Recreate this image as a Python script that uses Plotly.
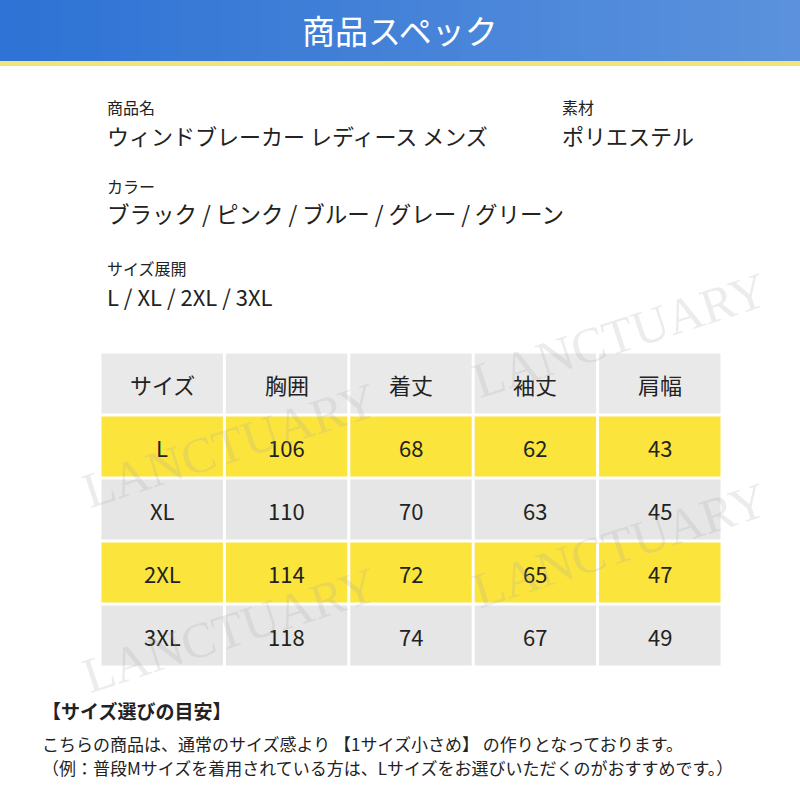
import plotly.graph_objects as go

# Data
headers = ["サイズ", "胸囲", "着丈", "袖丈", "肩幅"]
sizes = ["L", "XL", "2XL", "3XL"]
chest = [106, 110, 114, 118]
length = [68, 70, 72, 74]
sleeve = [62, 63, 65, 67]
shoulder = [43, 45, 47, 49]
highlight = [True, False, True, False]

FONT = "Noto Sans CJK JP"
fig = go.Figure()
shapes = []
ann = []

# header bar with a simple gradient
n = 40
for i in range(n):
    t = i / (n - 1)
    r = int(0x2e + (0x5c - 0x2e) * t)
    g = int(0x73 + (0x92 - 0x73) * t)
    b = int(0xd5 + (0xdd - 0xd5) * t)
    shapes.append(dict(type="rect", x0=800 * i / n, x1=800 * (i + 1) / n + 1, y0=0, y1=61,
                       fillcolor=f"rgb({r},{g},{b})", line_width=0, layer="below"))
shapes.append(dict(type="rect", x0=0, x1=800, y0=61, y1=66, fillcolor="#f3e47a", line_width=0))
ann.append(dict(x=400, y=30, text="商品スペック", font=dict(size=33, color="white", family=FONT)))

def txt(x, y, s, size, bold=False, color="#222"):
    ann.append(dict(x=x, y=y, text=f"<b>{s}</b>" if bold else s, xanchor="left",
                    font=dict(size=size, color=color, family=FONT)))

txt(105, 107, "商品名", 16)
txt(105, 135, "ウィンドブレーカー レディース メンズ", 22)
txt(560, 107, "素材", 16)
txt(560, 135, "ポリエステル", 22)
txt(105, 186, "カラー", 16)
txt(105, 213, "ブラック / ピンク / ブルー / グレー / グリーン", 22.5)
txt(105, 268, "サイズ展開", 16)
txt(105, 296, "L / XL / 2XL / 3XL", 22)

# table
x0, cw = 100, 124.4
y0, rh = 352, 63
rows = [headers] + [[s, c, l, sl, sh] for s, c, l, sl, sh in zip(sizes, chest, length, sleeve, shoulder)]
for r, row in enumerate(rows):
    color = "#e9e9e9" if r == 0 else ("#fbe43c" if highlight[r - 1] else "#e6e6e6")
    for c, v in enumerate(row):
        xa = x0 + c * cw
        ya = y0 + r * rh
        shapes.append(dict(type="rect", x0=xa + 1.5, x1=xa + cw - 1.5, y0=ya + 1.5, y1=ya + rh - 1.5,
                           fillcolor=color, line_width=0, layer="below"))
        ann.append(dict(x=xa + cw / 2, y=ya + rh / 2, text=str(v),
                        font=dict(size=22, color="#222", family=FONT)))

# watermarks
for (wx, wy) in [(230, 445), (620, 335), (620, 545), (230, 630)]:
    ann.append(dict(x=wx, y=wy, text="LANCTUARY", textangle=-18,
                    font=dict(size=50, color="rgba(170,170,170,0.22)", family="Liberation Serif")))

txt(40, 710, "【サイズ選びの目安】", 19, bold=True)
txt(40, 743, "こちらの商品は、通常のサイズ感より 【1サイズ小さめ】 の作りとなっております。", 17)
txt(40, 767, "（例：普段Mサイズを着用されている方は、Lサイズをお選びいただくのがおすすめです。）", 17)

for a in ann:
    a.update(xref="x", yref="y", showarrow=False)

fig.update_layout(width=800, height=800, margin=dict(l=0, r=0, t=0, b=0),
                  plot_bgcolor="white", paper_bgcolor="white", shapes=shapes, annotations=ann,
                  xaxis=dict(range=[0, 800], visible=False, fixedrange=True),
                  yaxis=dict(range=[800, 0], visible=False, fixedrange=True),
                  showlegend=False)
fig.write_html("out.html", config={"displayModeBar": False},
               post_script="document.body.style.margin='0';document.body.style.overflow='hidden';")
